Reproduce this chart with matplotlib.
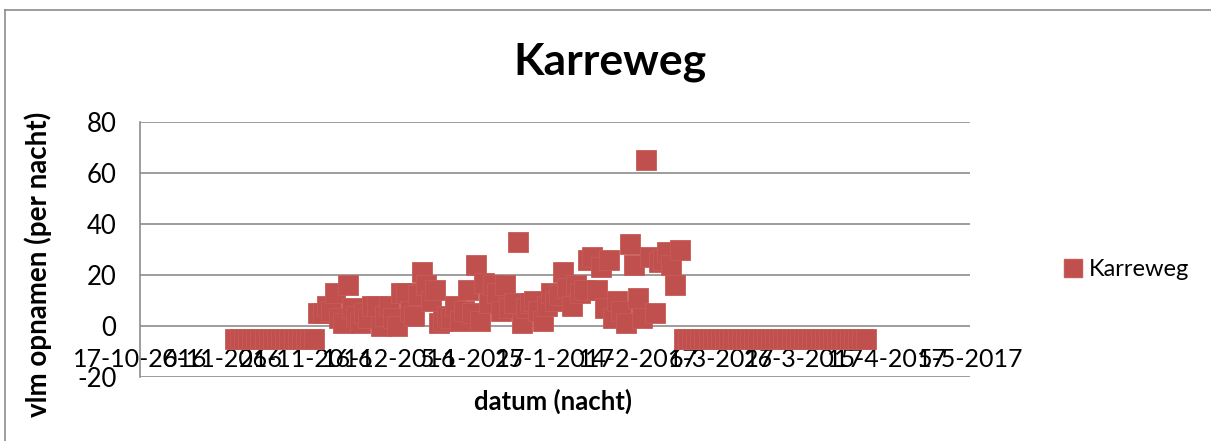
import matplotlib
matplotlib.use("Agg")
import matplotlib.pyplot as plt
from matplotlib.lines import Line2D
import pandas as pd

# ---------------- data ----------------
title = "Karreweg"
series_name = "Karreweg"
x_label = "datum (nacht)"
y_label = "vlm opnamen (per nacht)"

first_night = "2016-11-09"
# nightly counts (nights without recordings are plotted at -5 in the source chart)
counts = [
    -5, -5, -5, -5, -5, -5, -5, -5, -5, -5,
    -5, -5, -5, -5, -5, -5, -5, -5, -5, -5,
    5, 5, 8, 6, 13, 3, 1, 16, 7, 4,
    1, 5, 3, 8, 8, 0, 4, 8, 3, 0,
    13, 13, 6, 4, 12, 21, 16, 10, 14, 1,
    2, 4, 3, 8, 2, 6, 14, 5, 24, 2,
    17, 9, 16, 13, 6, 16, 7, 9, 33, 1,
    7, 9, 10, 6, 2, 8, 13, 10, 12, 21,
    15, 8, 16, 13, 14, 26, 27, 14, 23, 7,
    26, 3, 10, 6, 1, 32, 24, 11, 3, 65,
    27, 5, 25, 26, 29, 24, 16, 30,
    -5, -5, -5, -5, -5, -5, -5, -5, -5, -5,
    -5, -5, -5, -5, -5, -5, -5, -5, -5, -5,
    -5, -5, -5, -5, -5, -5, -5, -5, -5, -5,
    -5, -5, -5, -5, -5, -5, -5, -5, -5, -5,
    -5, -5, -5, -5, -5,
]

axis_start = "2016-10-17"
axis_end = "2017-05-05"
x_tick_step = "20D"
y_ticks = [-20, 0, 20, 40, 60, 80]

# ---------------- style ----------------
RED = "#C0504D"
GRID = "#8C8C8C"
FONT = ["Lato", "DejaVu Sans"]
plt.rcParams["font.family"] = FONT

W, H = 1211, 441
fig = plt.figure(figsize=(W / 100, H / 100), dpi=100)

# outer chart border (left and top visible in reference)
fig.add_artist(Line2D([5 / W, 5 / W], [0, 1 - 10 / H], color=GRID, lw=1.2, transform=fig.transFigure))
fig.add_artist(Line2D([5 / W, 1], [1 - 10 / H, 1 - 10 / H], color=GRID, lw=1.2, transform=fig.transFigure))

left, right, top, bottom = 140, 970, 122, 377
ax = fig.add_axes([left / W, 1 - bottom / H, (right - left) / W, (bottom - top) / H])

dates = pd.date_range(first_night, periods=len(counts), freq="D")
ax.plot(dates, counts, linestyle="none", marker="s", markersize=14,
        markerfacecolor=RED, markeredgecolor="#C85A57", markeredgewidth=0.6,
        label=series_name, zorder=3)

ax.set_xlim(pd.Timestamp(axis_start), pd.Timestamp(axis_end))
ax.set_ylim(min(y_ticks), max(y_ticks))
ax.set_yticks(y_ticks)
ax.set_yticklabels([str(v) for v in y_ticks])

xt = pd.date_range(axis_start, axis_end, freq=x_tick_step)
ax.set_xticks(xt)
ax.set_xticklabels([f"{d.day}-{d.month}-{d.year}" for d in xt])

for s in ["top", "right", "bottom"]:
    ax.spines[s].set_visible(False)
ax.spines["bottom"].set_position(("data", 0))
ax.spines["left"].set_color(GRID)
ax.spines["left"].set_linewidth(1.2)

ax.grid(axis="y", color=GRID, linewidth=1.2, zorder=0)
ax.set_axisbelow(True)
ax.tick_params(axis="both", length=0)
ax.tick_params(axis="y", labelsize=18.5, pad=17)
ax.tick_params(axis="x", labelsize=18, pad=16)

fig.text(610 / W, 1 - 62 / H, title, ha="center", va="center", fontsize=32, fontweight="bold")
fig.text(553 / W, 1 - 401 / H, x_label, ha="center", va="center", fontsize=18.5, fontweight="bold")
fig.text(38 / W, 1 - 264 / H, y_label, ha="center", va="center", rotation=90, fontsize=20, fontweight="bold")

leg = fig.legend(handles=[Line2D([], [], linestyle="none", marker="s", markersize=13,
                                 markerfacecolor=RED, markeredgecolor="#C85A57")],
                 labels=[series_name], loc="center left",
                 bbox_to_anchor=(1042 / W, 1 - 270 / H), frameon=False,
                 fontsize=17, handlelength=0.8, handletextpad=0.3)

fig.savefig("out.png", dpi=100)
